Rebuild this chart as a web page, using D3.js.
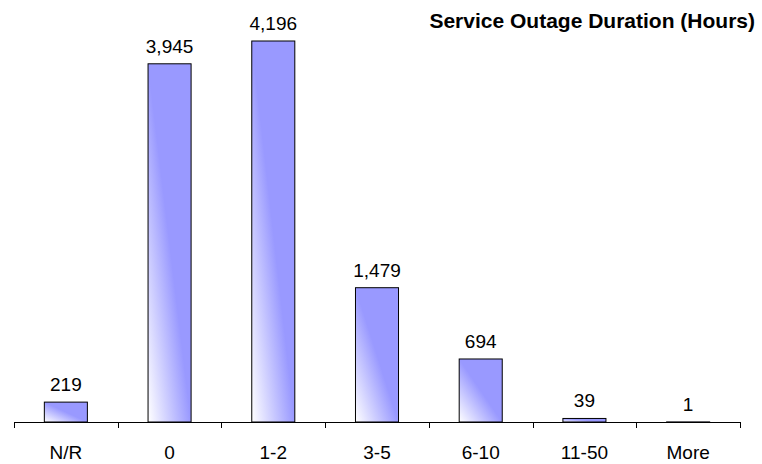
<!DOCTYPE html>
<html>
<head>
<meta charset="utf-8">
<script src="https://cdn.jsdelivr.net/npm/d3@7/dist/d3.min.js"></script>
<style>
html,body{margin:0;padding:0;background:#fff;}
svg{display:block;}
text{font-family:"Liberation Sans",Arial,sans-serif;fill:#000;}
</style>
</head>
<body>
<svg id="chart" width="762" height="464"></svg>
<script>
const categories = ["N/R","0","1-2","3-5","6-10","11-50","More"];
const values = [219,3945,4196,1479,694,39,1];
const title = "Service Outage Duration (Hours)";
const yMax = 4500;

const svg = d3.select("#chart");

const x = d3.scaleBand().domain(categories).range([14, 740])
  .paddingInner(0.585).paddingOuter(0.2925);
const y = d3.scaleLinear().domain([0, yMax]).range([422, 13.4]);

const defs = svg.append("defs");
const grad = defs.append("linearGradient").attr("id","barGrad")
  .attr("x1","0").attr("y1","1").attr("x2","1").attr("y2","0");
grad.append("stop").attr("offset","0").attr("stop-color","#ffffff");
grad.append("stop").attr("offset","0.5").attr("stop-color","#9999ff");
grad.append("stop").attr("offset","1").attr("stop-color","#9999ff");

// bars
svg.append("g").selectAll("rect").data(values).join("rect")
  .attr("x",(d,i)=>x(categories[i]))
  .attr("y",d=>y(d))
  .attr("width",x.bandwidth())
  .attr("height",d=>y(0)-y(d))
  .attr("fill","url(#barGrad)")
  .attr("stroke","#000").attr("stroke-width",1);

// axis
const step = x.step();
const x0 = x.range()[0];
const ax = svg.append("g");
ax.append("line").attr("x1",x0).attr("x2",x0+step*categories.length)
  .attr("y1",y(0)+0.5).attr("y2",y(0)+0.5).attr("stroke","#000").attr("stroke-width",1);
ax.selectAll("line.tick").data(d3.range(categories.length+1)).join("line")
  .attr("class","tick")
  .attr("x1",i=>Math.round(x0+i*step)+0.5).attr("x2",i=>Math.round(x0+i*step)+0.5)
  .attr("y1",y(0)).attr("y2",y(0)+6).attr("stroke","#000");

// category labels
svg.append("g").selectAll("text").data(categories).join("text")
  .attr("x",d=>x(d)+x.bandwidth()/2).attr("y",459)
  .attr("text-anchor","middle").attr("font-size",19).text(d=>d);

// value labels
svg.append("g").selectAll("text").data(values).join("text")
  .attr("x",(d,i)=>x(categories[i])+x.bandwidth()/2).attr("y",d=>y(d)-11)
  .attr("text-anchor","middle").attr("font-size",19).text(d=>d3.format(",")(d));

// title
svg.append("text")
  .attr("x",755).attr("y",28)
  .attr("text-anchor","end").attr("font-size",21).attr("font-weight","bold")
  .text(title);
</script>
</body>
</html>
